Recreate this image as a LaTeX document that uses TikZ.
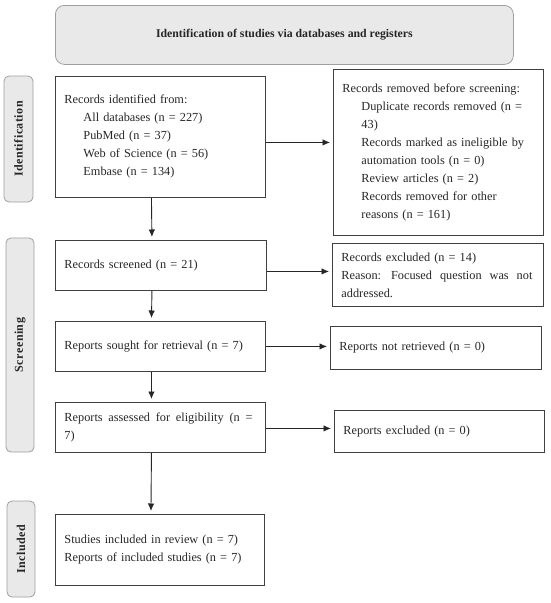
\documentclass[tikz,border=0pt]{standalone}
\usepackage{fontspec}
\setmainfont{Liberation Serif}
\usetikzlibrary{arrows.meta}
\begin{document}
\begin{tikzpicture}[x=1pt,y=-1pt,
  box/.style={draw=black!75, line width=0.9pt, align=left, inner xsep=9pt, inner ysep=0pt,
    font=\fontsize{12.3}{18}\selectfont, text=black!85, anchor=north west},
  titlebox/.style={draw=gray!75, line width=0.8pt, fill=gray!17, rounded corners=9pt,
    anchor=north west, font=\fontsize{11.8}{14}\selectfont\bfseries, text=black!85},
  phase/.style={draw=gray!75, line width=0.8pt, fill=gray!17, rounded corners=5pt, rotate=90,
    font=\fontsize{12}{14}\selectfont\bfseries\addfontfeature{LetterSpace=4}, text=black!85, inner sep=0pt},
  arr/.style={draw=black!85, line width=0.9pt, -{Latex[length=7.5pt,width=6.5pt]}, shorten >=3pt}
]
\useasboundingbox (0,0) rectangle (550,603);

\node[titlebox, minimum width=458pt, minimum height=59pt] (title) at (55,5)
  {Identification of studies via databases and registers};

\node[phase, minimum width=126pt, minimum height=29pt] (pid) at (18.5,139) {Identification};
\node[phase, minimum width=214pt, minimum height=28pt] (psc) at (20,345) {Screening};
\node[phase, minimum width=96pt, minimum height=28pt] (pin) at (21,549) {Included};

\node[box, text width=192pt, minimum width=210pt, minimum height=121pt] (ident) at (55,76)
  {Records identified from:\\
   \hspace*{19pt}All databases (n = 227)\\
   \hspace*{19pt}PubMed (n = 37)\\
   \hspace*{19pt}Web of Science (n = 56)\\
   \hspace*{19pt}Embase (n = 134)};

\node[box, text width=192pt, minimum width=210pt, minimum height=166pt] (removed) at (333,69)
  {Records removed before screening:\\
   \hspace*{19pt}Duplicate records removed (n =\\
   \hspace*{19pt}43)\\
   \hspace*{19pt}Records marked as ineligible by\\
   \hspace*{19pt}automation tools (n = 0)\\
   \hspace*{19pt}Review articles (n = 2)\\
   \hspace*{19pt}Records removed for other\\
   \hspace*{19pt}reasons (n = 161)};

\node[box, text width=193pt, minimum width=211pt, minimum height=50pt] (screened) at (55,240)
  {Records screened (n = 21)};

\node[box, text width=193pt, minimum width=211pt, minimum height=63pt] (recex) at (332,243)
  {Records excluded (n = 14)\\
   \makebox[191pt][l]{Reason: \hfill Focused \hfill question \hfill was \hfill not}\\
   addressed.};

\node[box, text width=192pt, minimum width=210pt, minimum height=50pt] (sought) at (55,321)
  {Reports sought for retrieval (n = 7)};

\node[box, text width=193pt, minimum width=211pt, minimum height=43pt] (notret) at (330,326)
  {Reports not retrieved (n = 0)};

\node[box, text width=192pt, minimum width=210pt, minimum height=50pt] (assessed) at (55,402)
  {\makebox[188pt][l]{Reports \hfill assessed \hfill for \hfill eligibility \hfill (n \hfill =}\\
   7)};

\node[box, text width=192pt, minimum width=210pt, minimum height=42pt] (repex) at (334,410)
  {Reports excluded (n = 0)};

\node[box, text width=191pt, minimum width=209pt, minimum height=71pt] (studies) at (55,514)
  {Studies included in review (n = 7)\\
   Reports of included studies (n = 7)};

% vertical arrows
\draw[arr] ([xshift=-9pt]ident.south) -- ([xshift=-9pt]screened.north);
\draw[arr] ([xshift=-9pt]screened.south) -- ([xshift=-9pt]sought.north);
\draw[arr] ([xshift=-9pt]sought.south) -- ([xshift=-9pt]assessed.north);
\draw[arr] ([xshift=-9pt]assessed.south) -- ([xshift=-9pt]studies.north);

% horizontal arrows
\draw[arr] ([yshift=-5.5pt]ident.east) -- ([yshift=-5.5pt]ident.east -| removed.west);
\draw[arr] ([yshift=-6pt]screened.east) -- ([yshift=-6pt]screened.east -| recex.west);
\draw[arr] (sought.east) -- (sought.east -| notret.west);
\draw[arr] ([yshift=-1pt]assessed.east) -- ([yshift=-1pt]assessed.east -| repex.west);
\end{tikzpicture}
\end{document}
